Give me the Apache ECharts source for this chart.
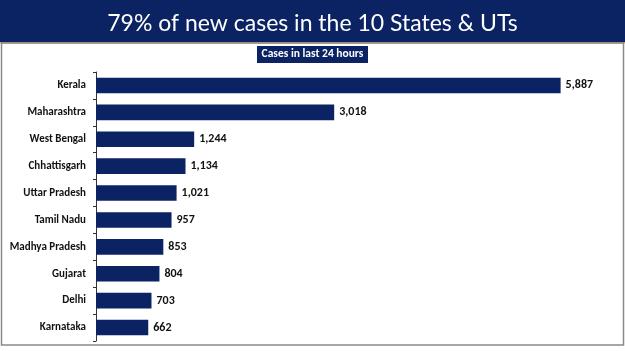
<!DOCTYPE html>
<html>
<head>
<meta charset="utf-8">
<script src="https://cdn.jsdelivr.net/npm/echarts@6/dist/echarts.min.js"></script>
<style>
  html, body { margin: 0; padding: 0; background: #fff; }
  #echarts { width: 625px; height: 351px; }
</style>
</head>
<body>
<div id="echarts"></div>
<script>
// data
var states = ['Kerala', 'Maharashtra', 'West Bengal', 'Chhattisgarh', 'Uttar Pradesh',
              'Tamil Nadu', 'Madhya Pradesh', 'Gujarat', 'Delhi', 'Karnataka'];
var cases = [5887, 3018, 1244, 1134, 1021, 957, 853, 804, 703, 662];

var navy = '#0b2263';
var narrow = "Carlito, 'Liberation Sans Narrow', 'Liberation Sans', sans-serif";

var myChart = echarts.init(document.getElementById('echarts'));
var option = {
    backgroundColor: '#fff',
    animation: false,
    title: {
        text: '79% of new cases in the 10 States & UTs',
        left: 'center',
        top: 7,
        textStyle: {
            color: '#fff',
            fontFamily: 'Lato, sans-serif',
            fontWeight: 'normal',
            fontSize: 23
        }
    },
    graphic: [
        // title band
        { type: 'rect', z: -1, shape: { x: 0, y: 0, width: 625, height: 42 }, style: { fill: navy } },
        { type: 'rect', z: -1, shape: { x: 0, y: 42, width: 625, height: 1.5 }, style: { fill: '#d89a5a' } },
        // frame round the chart
        { type: 'rect', z: -1, shape: { x: 1.5, y: 43, width: 622, height: 302 },
          style: { fill: 'none', stroke: '#8a8a8a', lineWidth: 1.5 } },
        // subtitle box
        { type: 'rect', shape: { x: 257, y: 46, width: 111, height: 17 }, style: { fill: navy } },
        { type: 'text', x: 312.5, y: 54.5,
          style: { text: 'Cases in last 24 hours', fill: '#fff', font: 'bold 11.5px ' + narrow,
                   align: 'center', verticalAlign: 'middle' } }
    ],
    grid: { left: 96, right: 16, top: 72, bottom: 10 },
    xAxis: {
        type: 'value',
        min: 0,
        max: 6500,
        show: false
    },
    yAxis: {
        type: 'category',
        data: states,
        inverse: true,
        axisLine: { lineStyle: { color: '#333', width: 1 } },
        axisTick: { show: true, length: 3, lineStyle: { color: '#333' } },
        axisLabel: { margin: 10, color: '#111', fontFamily: narrow, fontWeight: 'bold', fontSize: 11 }
    },
    series: [
        {
            name: 'Cases',
            type: 'bar',
            data: cases,
            barCategoryGap: '42%',
            itemStyle: { color: navy },
            label: {
                show: true,
                position: 'right',
                distance: 5,
                color: '#111',
                fontFamily: narrow,
                fontWeight: 'bold',
                fontSize: 12,
                formatter: function (p) { return p.value.toLocaleString('en-US'); }
            }
        }
    ]
};
myChart.setOption(option);
</script>
</body>
</html>
